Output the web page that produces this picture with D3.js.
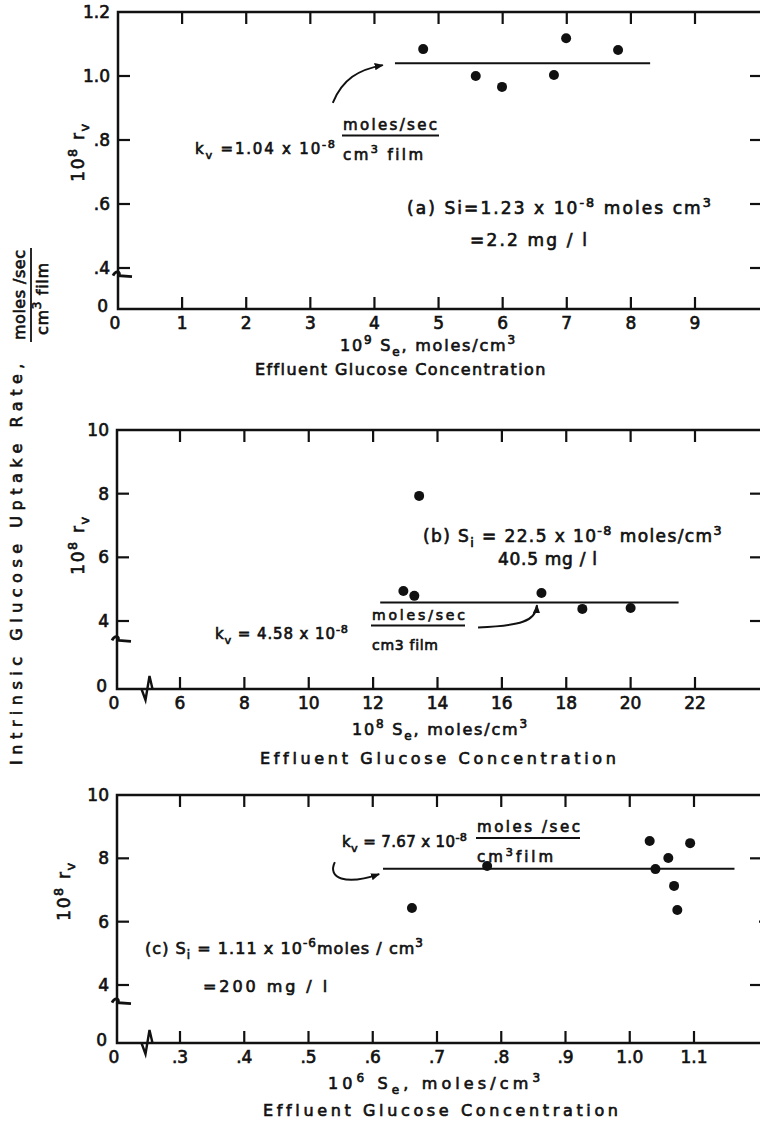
<!DOCTYPE html>
<html>
<head>
<meta charset="utf-8">
<script src="https://cdn.jsdelivr.net/npm/d3@7"></script>
<style>
  body { margin: 0; background: #fff; }
  svg text { font-family: "DejaVu Sans", sans-serif; fill: #111; stroke: #111; stroke-width: 0.65px; }
</style>
</head>
<body>
<script>
// (a) Si = 1.23e-8 moles/cm3
var xTicksA = [0, 1, 2, 3, 4, 5, 6, 7, 8, 9];
var xLabelsA = ["0", "1", "2", "3", "4", "5", "6", "7", "8", "9"];
var yTicksA = [0, 0.4, 0.6, 0.8, 1.0, 1.2];
var yLabelsA = ["0", ".4", ".6", ".8", "1.0", "1.2"];
var seA = [4.76, 5.58, 5.99, 6.80, 6.99, 7.80];
var rvA = [1.084, 1.0, 0.966, 1.003, 1.118, 1.081];
var kvA = 1.04, fitA = [4.32, 8.30];

// (b) Si = 22.5e-8 moles/cm3
var xTicksB = [0, 6, 8, 10, 12, 14, 16, 18, 20, 22];
var xLabelsB = ["0", "6", "8", "10", "12", "14", "16", "18", "20", "22"];
var yTicksB = [0, 4, 6, 8, 10];
var yLabelsB = ["0", "4", "6", "8", "10"];
var seB = [12.94, 13.28, 13.43, 17.23, 18.50, 20.0];
var rvB = [4.94, 4.79, 7.93, 4.88, 4.38, 4.41];
var kvB = 4.58, fitB = [12.22, 21.49];

// (c) Si = 1.11e-6 moles/cm3
var xTicksC = [0, 0.3, 0.4, 0.5, 0.6, 0.7, 0.8, 0.9, 1.0, 1.1];
var xLabelsC = ["0", ".3", ".4", ".5", ".6", ".7", ".8", ".9", "1.0", "1.1"];
var yTicksC = [0, 4, 6, 8, 10];
var yLabelsC = ["0", "4", "6", "8", "10"];
var seC = [0.661, 0.778, 1.031, 1.040, 1.060, 1.069, 1.074, 1.094];
var rvC = [6.43, 7.76, 8.55, 7.66, 8.01, 7.13, 6.37, 8.48];
var kvC = 7.67, fitC = [0.616, 1.163];

var W = 760, H = 1125, RIGHT = 762;

var svg = d3.select('body').append('svg')
  .attr('width', W).attr('height', H);

svg.append('defs').append('marker')
  .attr('id', 'head')
  .attr('viewBox', '0 0 10 10')
  .attr('refX', 9).attr('refY', 5)
  .attr('markerWidth', 9).attr('markerHeight', 9)
  .attr('markerUnits', 'userSpaceOnUse')
  .attr('orient', 'auto')
  .append('path').attr('d', 'M0,1 L10,5 L0,9 Z').attr('fill', '#111');

// text with sub/superscripts; parts = ["plain", ["x","sup"], ["y","sub"]]
function rich(sel, x, y, parts, size, width, anchor) {
  var t = sel.append('text').attr('x', x).attr('y', y)
    .style('font-size', size + 'px')
    .attr('text-anchor', anchor || 'start');
  var shift = 0;
  parts.forEach(function (p) {
    var s = typeof p === 'string' ? [p, null] : p;
    var target = s[1] === 'sup' ? -size * 0.42 : s[1] === 'sub' ? size * 0.3 : 0;
    t.append('tspan')
      .attr('dy', target - shift)
      .style('font-size', s[1] ? (size * 0.75) + 'px' : null)
      .text(s[0]);
    shift = target;
  });
  if (width) fit(t, width);
  return t;
}

function fit(t, width) {
  var n = t.text().length;
  var w = t.node().getComputedTextLength();
  if (n > 1) t.style('letter-spacing', ((width - w) / (n - 1)) + 'px');
}

function fraction(sel, x, yBar, num, den, size, wNum, wDen, barW) {
  rich(sel, x, yBar - 6, num, size, wNum);
  sel.append('line').attr('x1', x - 1).attr('x2', x - 1 + barW)
    .attr('y1', yBar).attr('y2', yBar)
    .attr('stroke', '#111').attr('stroke-width', 1.8);
  rich(sel, x, yBar + 24, den, size, wDen);
}

function panel(cfg) {
  var g = svg.append('g');
  var x = d3.scaleLinear().domain(cfg.xDomain).range(cfg.xRange);
  var y = d3.scaleLinear().domain(cfg.yDomain).range(cfg.yRange);
  var left = x(0), bottom = y(0), top = y(cfg.yDomain[cfg.yDomain.length - 1]);

  // frame
  g.append('path')
    .attr('d', 'M' + RIGHT + ',' + top + 'H' + left + 'V' + bottom + 'H' + RIGHT)
    .attr('fill', 'none').attr('stroke', '#111').attr('stroke-width', 2.5);

  var tk = 12;
  var xt = cfg.xTicks.filter(function (d) { return d !== 0; });
  g.selectAll('.tb').data(xt).enter().append('line')
    .attr('x1', x).attr('x2', x).attr('y1', bottom).attr('y2', bottom - tk)
    .attr('stroke', '#111').attr('stroke-width', 2.2);
  g.selectAll('.tt').data(xt).enter().append('line')
    .attr('x1', x).attr('x2', x).attr('y1', top).attr('y2', top + tk)
    .attr('stroke', '#111').attr('stroke-width', 2.2);
  var yt = cfg.yTicks.filter(function (d, i) { return d !== 0 && i < cfg.yTicks.length - 1; });
  g.selectAll('.tl').data(yt).enter().append('line')
    .attr('x1', left).attr('x2', left + tk).attr('y1', y).attr('y2', y)
    .attr('stroke', '#111').attr('stroke-width', 2.2);
  g.selectAll('.tr').data(yt).enter().append('line')
    .attr('x1', function (d) { return d === cfg.rightDot ? RIGHT - 3 : RIGHT - tk; })
    .attr('x2', RIGHT).attr('y1', y).attr('y2', y)
    .attr('stroke', '#111').attr('stroke-width', 2.2);

  // tick labels
  g.selectAll('.lx').data(cfg.xTicks).enter().append('text')
    .attr('x', function (d) { return x(d) - (d === 0 ? 3 : 0); })
    .attr('y', bottom + 20)
    .attr('text-anchor', 'middle').style('font-size', '17px')
    .text(function (d, i) { return cfg.xLabels[i]; });
  g.selectAll('.ly').data(cfg.yTicks).enter().append('text')
    .attr('x', function (d) { return d === 0 ? left - 10 : left - 8; })
    .attr('y', function (d) { return y(d) + (d === 0 ? 3 : 6); })
    .attr('text-anchor', 'end').style('font-size', '17px')
    .text(function (d, i) { return cfg.yLabels[i]; });

  // axis breaks
  var yb = y(cfg.yBreak);
  g.append('path')
    .attr('d', 'M' + (left - 5) + ',' + (yb + 1) + 'C' + (left - 2) + ',' + (yb - 5) + ' ' + (left + 3) + ',' + (yb - 3) + ' ' + (left + 1) + ',' + (yb + 1) +
      'L' + (left + 14) + ',' + (yb + 2))
    .attr('fill', 'none').attr('stroke', '#111').attr('stroke-width', 2.8);
  if (cfg.xBreak !== undefined) {
    var xb = x(cfg.xBreak);
    g.append('path')
      .attr('d', 'M' + (xb - 7) + ',' + bottom + 'L' + (xb - 3) + ',' + (bottom + 11) + 'L' + (xb + 1) + ',' + (bottom - 13) + 'L' + (xb + 4) + ',' + bottom)
      .attr('fill', 'none').attr('stroke', '#111').attr('stroke-width', 2.4);
  }

  // fitted k_v line
  g.append('line')
    .attr('x1', x(cfg.fit[0])).attr('x2', x(cfg.fit[1]))
    .attr('y1', y(cfg.kv)).attr('y2', y(cfg.kv))
    .attr('stroke', '#111').attr('stroke-width', 2);

  // data
  g.selectAll('circle').data(cfg.se).enter().append('circle')
    .attr('cx', function (d) { return x(d); })
    .attr('cy', function (d, i) { return y(cfg.rv[i]); })
    .attr('r', 5).attr('fill', '#111');

  // arrow
  var a = cfg.arrow.map(function (p) { return [x(p[0]), y(p[1])]; });
  g.append('path')
    .attr('d', 'M' + a[0] + 'C' + a[1] + ' ' + a[2] + ' ' + a[3])
    .attr('fill', 'none').attr('stroke', '#111').attr('stroke-width', 2)
    .attr('marker-end', 'url(#head)');

  // axis titles
  var yl = g.append('g').attr('transform', 'translate(' + cfg.yTitle[0] + ',' + cfg.yTitle[1] + ') rotate(-90)');
  rich(yl, 0, 6, ['10', ['8', 'sup'], ' r', ['v', 'sub']], 17, 58, 'middle');
  rich(g, cfg.xTitle[0], cfg.xTitle[1], ['10', [cfg.exp, 'sup'], ' S', ['e', 'sub'], ', moles/cm', ['3', 'sup']], 16, cfg.xTitle[2]);
  var ef = g.append('text').attr('x', cfg.eff[0]).attr('y', cfg.eff[1])
    .style('font-size', '16px').text('Effluent  Glucose  Concentration');
  fit(ef, cfg.eff[2]);
  return g;
}

// (a)
var ga = panel({
  xDomain: [0, 9], xRange: [118, 695],
  yDomain: [0, 0.4, 1.2], yRange: [309, 268, 12],
  xTicks: xTicksA, xLabels: xLabelsA, yTicks: yTicksA, yLabels: yLabelsA,
  yBreak: 0.335,
  se: seA, rv: rvA, kv: kvA, fit: fitA,
  arrow: [[3.35, 0.916], [3.5, 0.99], [3.75, 1.02], [4.13, 1.034]],
  yTitle: [78, 152], exp: '9', xTitle: [340, 351, 175], eff: [255, 375, 293]
});
rich(ga, 195, 154, ['k', ['v', 'sub'], ' =1.04 x 10', ['-8', 'sup']], 15, 140);
fraction(ga, 343, 135.5, ['moles/sec'], ['cm', ['3', 'sup'], ' film'], 15, 94, 80, 97);
rich(ga, 407, 214, ['(a)  Si=1.23 x 10', ['-8', 'sup'], ' moles  cm', ['3', 'sup']], 17, 308);
rich(ga, 470, 246, ['=2.2 mg / l'], 17, 117);

// (b)
var gb = panel({
  xDomain: [0, 6, 22], xRange: [117, 180, 695],
  yDomain: [0, 4, 10], yRange: [689, 621, 430],
  xTicks: xTicksB, xLabels: xLabelsB, yTicks: yTicksB, yLabels: yLabelsB,
  yBreak: 2.92, xBreak: 3.0,
  se: seB, rv: rvB, kv: kvB, fit: fitB,
  arrow: [[15.26, 3.62], [16.56, 3.72], [17.06, 3.97], [17.09, 4.5]],
  yTitle: [78, 545], exp: '8', xTitle: [352, 735, 175], eff: [260, 764, 363]
});
rich(gb, 215, 639, ['k', ['v', 'sub'], ' = 4.58 x 10', ['-8', 'sup']], 15, 133);
fraction(gb, 372, 625.5, ['moles/sec'], ['cm3 film'], 14, 93, 66, 94);
rich(gb, 423, 542, ['(b) S', ['i', 'sub'], ' = 22.5  x 10', ['-8', 'sup'], ' moles/cm', ['3', 'sup']], 17, 300);
rich(gb, 498, 565, ['40.5 mg / l'], 17, 99);

// (c)
var gc = panel({
  xDomain: [0, 0.3, 1.1], xRange: [117, 180, 694],
  yDomain: [0, 4, 10], yRange: [1043, 985, 795],
  xTicks: xTicksC, xLabels: xLabelsC, yTicks: yTicksC, yLabels: yLabelsC,
  yBreak: 2.85, xBreak: 0.15, rightDot: 6,
  se: seC, rv: rvC, kv: kvC, fit: fitC,
  arrow: [[0.541, 7.88], [0.529, 7.38], [0.557, 7.13], [0.610, 7.5]],
  yTitle: [64, 891], exp: '6', xTitle: [328, 1089, 212], eff: [263, 1116, 362]
});
rich(gc, 342, 847, ['k', ['v', 'sub'], ' = 7.67 x 10', ['-8', 'sup']], 15, 125);
fraction(gc, 477, 838, ['moles /sec'], ['cm', ['3', 'sup'], 'film'], 15, 103, 76, 104);
rich(gc, 145, 954, ['(c) S', ['i', 'sub'], ' = 1.11 x 10', ['-6', 'sup'], 'moles / cm', ['3', 'sup']], 16, 278);
rich(gc, 203, 992, ['=200  mg / l'], 16, 127);

// shared y title
var yt = svg.append('g');
var main = yt.append('text').attr('transform', 'rotate(-90)')
  .attr('x', -765).attr('y', 22).style('font-size', '16px')
  .text('Intrinsic  Glucose  Uptake  Rate,');
fit(main, 418);
var fr = yt.append('g').attr('transform', 'rotate(-90)');
rich(fr, -340, 25, ['moles /sec'], 16, 90);
fr.append('line').attr('x1', -342).attr('x2', -248).attr('y1', 31).attr('y2', 31)
  .attr('stroke', '#111').attr('stroke-width', 1.8);
rich(fr, -335, 48, ['cm', ['3', 'sup'], ' film'], 16, 72);
</script>
</body>
</html>
